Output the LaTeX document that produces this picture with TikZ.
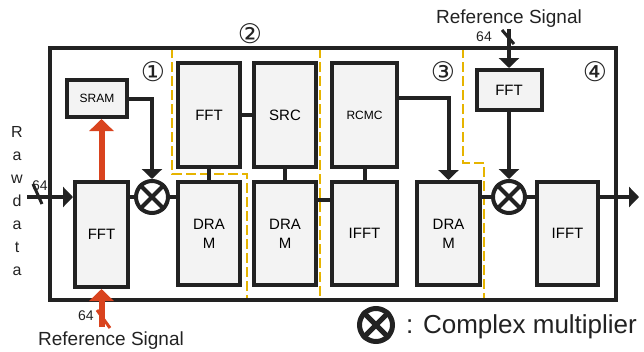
\documentclass[tikz,border=0pt]{standalone}
\usepackage{fontspec}
\setmainfont{Liberation Sans}
\newfontfamily\djv{DejaVu Sans}
\usetikzlibrary{arrows.meta}
\definecolor{ink}{HTML}{222222}
\definecolor{boxfill}{HTML}{F3F3F3}
\definecolor{refred}{HTML}{D9431E}
\definecolor{zone}{HTML}{E6B400}
\begin{document}
\begin{tikzpicture}[x=1pt,y=-1pt,
  blk/.style={draw=ink, line width=4pt, fill=boxfill, inner sep=0pt, align=center},
  lbl/.style={font=\fontsize{15}{17}\selectfont},
  small/.style={font=\fontsize{12}{14}\selectfont},
  mult/.style={circle, draw=ink, line width=4pt, fill=white, minimum size=32pt, inner sep=0pt},
  conn/.style={draw=ink, line width=4pt},
  arr/.style={conn, -{Triangle[width=20pt,length=10pt]}},
  redarr/.style={draw=refred, line width=6pt, -{Triangle[width=24pt,length=12pt]}},
  zoneline/.style={draw=zone, line width=2pt, dash pattern=on 10pt off 4pt},
  num/.style={font=\djv\fontsize{27}{27}\selectfont, text=ink},
  sixfour/.style={font=\fontsize{14}{14}\selectfont, text=ink},
  refl/.style={font=\fontsize{19}{19}\selectfont, text=ink}
]
\useasboundingbox (0,0) rectangle (644,351);
% zone boundaries
\draw[zoneline] (172,48) -- (172,174) -- (247,174) -- (247,300);
\draw[zoneline] (320,48) -- (320,300);
\draw[zoneline] (463,48) -- (463,163) -- (484,163) -- (484,300);
% frame
\draw[ink, line width=3.5pt] (50,48) rectangle (616,300);
% blocks
\node[blk, small, minimum width=60pt, minimum height=37pt] (sram) at (97,98.5) {SRAM};
\node[blk, lbl, minimum width=53pt, minimum height=105pt] (fft1) at (101.5,234.5) {FFT};
\node[blk, lbl, minimum width=62pt, minimum height=104pt] (fft2) at (209,115) {FFT};
\node[blk, lbl, minimum width=62pt, minimum height=104pt] (src) at (285,115) {SRC};
\node[blk, lbl, minimum width=62pt, minimum height=103pt] (dram1) at (209,233.5) {DRA\\[2pt]M};
\node[blk, lbl, minimum width=62pt, minimum height=103pt] (dram2) at (285,233.5) {DRA\\[2pt]M};
\node[blk, small, minimum width=65pt, minimum height=104pt] (rcmc) at (364.5,115) {RCMC};
\node[blk, lbl, minimum width=65pt, minimum height=103pt] (ifft1) at (364.5,233.5) {IFFT};
\node[blk, lbl, minimum width=63pt, minimum height=103pt] (dram3) at (448.5,233.5) {DRA\\[2pt]M};
\node[blk, lbl, minimum width=65pt, minimum height=40pt] (fft3) at (509,90) {FFT};
\node[blk, lbl, minimum width=61pt, minimum height=103pt] (ifft2) at (567.5,233.5) {IFFT};
\node[mult] (m1) at (152,197) {};
\node[mult] (m2) at (509,197) {};
\foreach \m in {m1,m2}{
  \draw[ink, line width=4pt] (\m.north west) -- (\m.south east);
  \draw[ink, line width=4pt] (\m.north east) -- (\m.south west);
}
% helper coordinates
\coordinate (rin) at (27,197);
\coordinate (rb) at (101.5,327);
\coordinate (rt) at (509,29);
\coordinate (out) at (639,197);
\coordinate (y200) at (0,200);
\coordinate (y98) at (0,98);
% connectors
\draw[arr] (rin) -- (fft1.west |- rin);
\draw[conn] (m1.west -| fft1.east) -- (m1.west);
\draw[conn] (m1.east) -- (m1.east -| dram1.west);
\draw[arr] (sram.east) -| (m1.north);
\draw[redarr] (fft1.north) -- (fft1.north |- sram.south);
\draw[redarr] (rb) -- (fft1.south);
\draw[conn] (fft2.south) -- (dram1.north);
\draw[conn] (fft2.east) -- (src.west);
\draw[conn] (src.south) -- (dram2.north);
\draw[conn] (dram2.east |- y200) -- (ifft1.west |- y200);
\draw[conn] (rcmc.south) -- (ifft1.north);
\draw[arr] (rcmc.east |- y98) -| (dram3.north);
\draw[conn] (m2.west -| dram3.east) -- (m2.west);
\draw[arr] (rt) -- (fft3.north);
\draw[arr] (fft3.south) -- (m2.north);
\draw[conn] (m2.east) -- (m2.east -| ifft2.west);
\draw[arr] (m2.east -| ifft2.east) -- (out);
% bus-width slashes
\draw[ink, line width=3pt] (33,184) -- (42,204);
\draw[ink, line width=3pt] (502,30) -- (514,44);
\draw[refred, line width=3pt] (97,310) -- (110,328);
% labels
\node[sixfour] (w1) at (40,186) {64};
\node[sixfour] (w2) at (484,37) {64};
\node[sixfour] (w3) at (86,316) {64};
\node[refl] (ref1) at (509,19) {Reference Signal};
\node[refl] (ref2) at (111,341) {Reference Signal};
\node[font=\fontsize{16}{23}\selectfont, text=ink, align=center] (raw) at (17,201.5) {R\\a\\w\\d\\a\\t\\a};
\node[num] (n1) at (153,72) {①};
\node[num] (n2) at (250,34) {②};
\node[num] (n3) at (443,72) {③};
\node[num] (n4) at (595,72) {④};
% legend
\node[mult, line width=5pt, minimum size=33pt] (lm) at (376,325) {};
\draw[ink, line width=5pt] (lm.north west) -- (lm.south east);
\draw[ink, line width=5pt] (lm.north east) -- (lm.south west);
\node[anchor=west, font=\fontsize{26}{26}\selectfont, text=ink, inner sep=0pt] (legend) at (406,327) {: Complex multiplier};
\end{tikzpicture}
\end{document}
